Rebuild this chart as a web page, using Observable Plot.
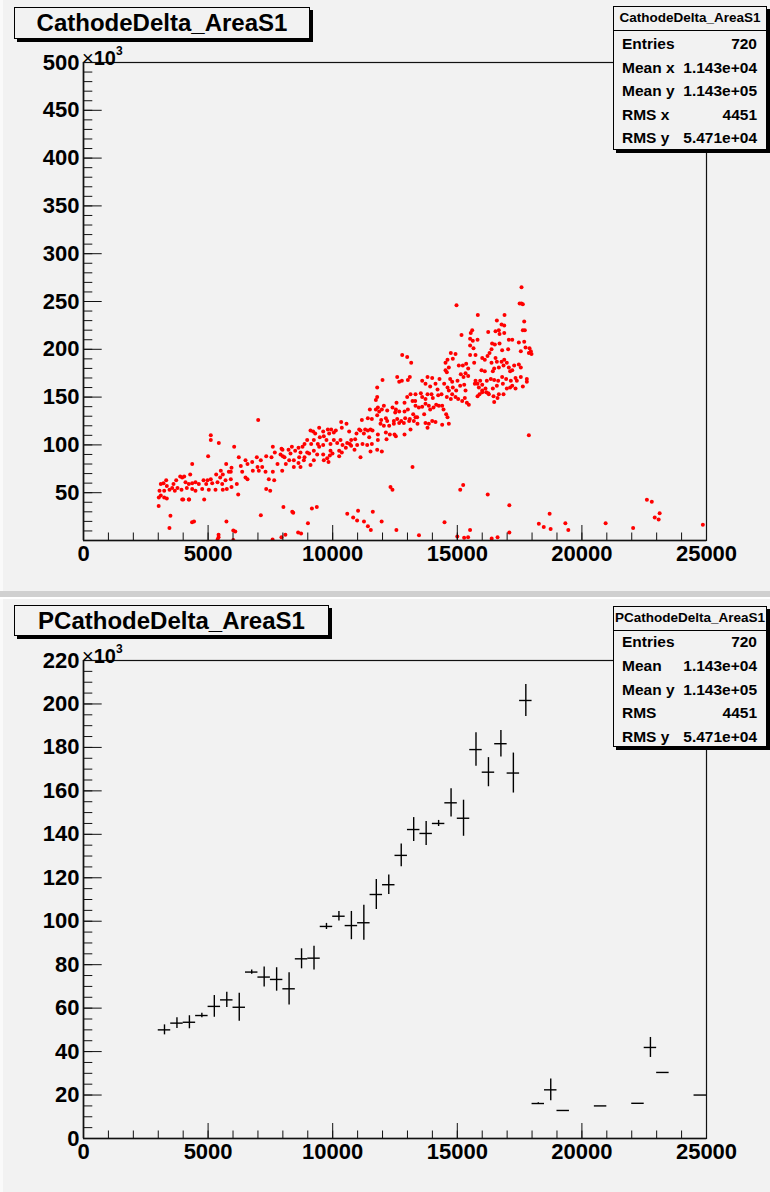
<!DOCTYPE html>
<html>
<head>
<meta charset="utf-8">
<script src="https://cdn.jsdelivr.net/npm/d3@7"></script>
<script src="https://cdn.jsdelivr.net/npm/@observablehq/plot@0.6"></script>
<style>
html,body{margin:0;padding:0;background:#f2f2f2;}
#canvas{position:relative;width:770px;height:1192px;overflow:hidden;background:#f2f2f2;
  font-family:"Liberation Sans",Arial,Helvetica,sans-serif;font-weight:bold;color:#000;}
.plot{position:absolute;left:0;}
.title{position:absolute;background:#f2f2f2;border:1px solid #000;box-shadow:3px 3px 0 #000;
  font-size:24px;text-align:center;box-sizing:border-box;}
.stats{position:absolute;background:#f2f2f2;border:1px solid #000;box-shadow:3px 3px 0 #000;box-sizing:border-box;}
.stats .hdr{position:absolute;left:0;right:0;top:0;height:23px;border-bottom:1px solid #000;
  font-size:13.5px;line-height:22px;text-align:center;white-space:nowrap;}
.stats .row{position:absolute;left:8px;right:9px;height:20px;line-height:20px;font-size:15.5px;
  display:flex;justify-content:space-between;white-space:nowrap;}
.exp{position:absolute;font-size:20px;line-height:20px;white-space:nowrap;}
.exp .x{font-weight:normal;}
.exp sup{font-size:12px;position:relative;top:-2px;}
.band{position:absolute;left:0;width:770px;}
</style>
</head>
<body>
<div id="canvas"></div>
<script>
// ---------- data ----------
const xTickLabels = [0, 5000, 10000, 15000, 20000, 25000];
const topYTickLabels = [50, 100, 150, 200, 250, 300, 350, 400, 450, 500];
const botYTickLabels = [0, 20, 40, 60, 80, 100, 120, 140, 160, 180, 200, 220];

// scatter CathodeDelta_AreaS1 : [x, y (×10^3)]
const scatterXY = [
[17577,265],[17500,248],[17577,248],[17630,247],[14968,246],[15823,236],[16895,236],[16587,230],[17685,229],
[16775,226],[16883,225],[15169,215],[15598,220],[15540,217],[16240,218],[16534,219],[16667,220],[16695,216],
[16883,217],[17630,220],[17710,220],[15514,211],[15622,209],[15812,210],[16397,206],[16506,205],[16695,206],
[17068,210],[17204,210],[17469,207],[17685,208],[17738,202],[17898,201],[17951,198],[17871,196],[17978,195],
[15514,204],[15650,201],[16373,200],[16293,196],[16800,199],[17040,200],[17549,198],[14740,196],[14929,195],
[15514,194],[15731,194],[14607,189],[14820,190],[14527,186],[16000,191],[16213,193],[16104,189],[16534,191],
[16775,187],[16883,189],[16987,186],[16587,187],[16373,186],[15061,183],[15221,183],[15357,185],[15437,180],
[15677,186],[14660,181],[14580,176],[14527,178],[15972,178],[16104,177],[16426,177],[16480,180],[16667,181],
[16855,183],[17068,181],[17204,178],[17282,183],[17469,184],[17549,181],[17122,177],[15141,174],[15330,175],
[15250,171],[15437,172],[13805,171],[13993,170],[14286,169],[14714,169],[14794,166],[15008,167],[15731,167],
[15811,164],[15918,167],[16000,163],[16185,167],[16345,169],[16480,168],[16640,167],[16800,171],[16960,169],
[17148,167],[17336,170],[17389,167],[17549,171],[17790,166],[13591,167],[13724,164],[13912,161],[14125,164],
[14206,158],[14473,164],[14607,160],[14660,157],[14820,160],[14955,157],[15115,162],[15277,163],[15330,157],
[15704,164],[15865,160],[16000,157],[16131,159],[16240,154],[16426,159],[16587,162],[16828,164],[16987,159],
[17204,162],[17336,159],[17630,161],[17120,160],[17790,169],[13323,153],[13537,154],[13591,150],[13805,153],
[13965,153],[14018,149],[13724,148],[14233,152],[14366,153],[14580,150],[14740,148],[14794,153],[14929,150],
[15036,148],[15196,146],[15302,149],[15383,144],[15463,142],[15812,151],[15892,153],[16000,155],[16160,155],
[16265,153],[16453,151],[16614,149],[16667,153],[16855,153],[16480,145],[13323,141],[13456,139],[13591,140],
[13724,143],[13857,141],[13912,137],[14045,139],[14152,142],[14260,141],[14393,141],[14447,137],[14553,132],
[14607,129],[13403,122],[13724,123],[13857,122],[13993,125],[14125,124],[13805,118],[14393,121],[14660,122],
[17871,110],[13323,129],[13670,132],
[12789,194],[12989,192],[13150,186],[12589,171],[12669,166],[12775,167],[13016,168],[13095,171],[11999,168],
[11785,160],[11785,150],[11732,147],[12989,150],[13123,153],[13203,146],[13311,146],[12561,144],[12882,144],
[12053,141],[11812,139],[11866,135],[11491,137],[11732,137],[11972,137],[12187,136],[12400,139],[12534,137],
[12508,134],[12669,135],[12882,135],[13016,137],[13230,132],[13390,129],[13256,125],[13095,127],[11410,128],
[11571,127],[11785,131],[11946,126],[12133,128],[12187,125],[12454,125],[12589,127],[12749,125],[12909,128],
[13068,125],[11919,122],[12053,120],[12266,120],[12454,122],[12669,123],[12855,123],[13123,116],[12133,113],
[12160,106],[12292,111],[12481,111],[12534,109],[12882,111],[11812,111],[11812,105],[11972,93],[11170,126],
[11518,116],[11598,115],[11410,115],[11116,115],[11304,116],[11063,116],[11464,108],[11250,112],[10955,112],
[10902,106],[10741,105],[10661,114],[10554,122],[10340,124],[10366,118],[10125,115],[10045,113],[9939,116],
[9804,116],[9858,112],[9618,114],[9643,109],[9483,108],[9298,112],[9214,114],[9109,115],[9457,118],[9403,101],
[9618,100],[9750,105],[9912,101],[10045,105],[10180,102],[10313,105],[10394,100],[10581,102],[10741,99],
[10875,95],[10260,94],[9912,94],[9992,91],[10260,88],[10366,92],[10527,97],[10688,101],[10982,100],[11196,101],
[11384,100],[11571,101],[11785,95],[11518,93],[11116,87],[9832,82],[9243,105],[9136,101],[8976,105],[8869,101],
[8789,98],[8708,92],[8628,97],[8495,94],[8361,98],[8227,95],[8307,91],[8066,87],[7986,95],[7906,90],[8119,80],
[8440,84],[8655,87],[8842,84],[9056,91],[9243,94],[9377,90],[9618,90],[9778,86],[9885,89],[9457,98],[8976,92],
[8869,87],[9243,84],[9643,84],[8253,84],[8628,81],[9109,79],[8708,77],[8440,77],[13203,77],
[7010,126],[5108,110],[5108,105],[5430,102],[6046,98],[5001,88],[4362,80],[5726,80],[5939,76],[5831,72],
[5510,73],[5590,69],[5325,69],[5486,66],[5699,63],[5911,64],[5108,64],[4976,63],[4816,63],[5165,60],[5377,61],
[5566,59],[4924,59],[4627,59],[4494,61],[4362,60],[4226,59],[4093,61],[4146,55],[3961,66],[3881,67],[4041,67],
[4282,69],[3720,63],[3612,59],[3772,55],[3560,55],[3343,57],[3319,63],[3210,60],[3102,59],[3050,52],[3239,52],
[3451,53],[3664,52],[3933,53],[4362,54],[4494,52],[4763,54],[5028,53],[5297,53],[5590,53],[5750,54],[5939,56],
[6152,59],[6208,48],[3102,47],[3022,45],[3239,45],[3343,44],[3961,43],[4226,43],[4843,43],[6232,87],[6501,84],
[6312,78],[6581,80],[6770,82],[6955,87],[7115,84],[6983,77],[7332,88],[7544,87],[7597,98],[7677,92],[7946,96],
[7998,88],[7785,80],[7974,73],[7597,72],[7304,72],[7436,64],[7653,63],[7332,54],[7492,52],[6501,66],[6368,72],
[6581,64],[5911,72],[7035,73],[6794,73],[7171,77],
[3016,36],[3489,26],[3449,13],[4001,43],[4238,43],[4356,19],[4435,20],[5736,20],[5420,6],[5420,3.5],[5381,1],
[6011,10.5],[6090,9.4],[6011,0.5],[7116,26.5],[7588,1],[8022,35],[8101,6],[7943,3.5],[8377,30],[8416,29],
[8613,8.4],[8731,7.4],[9007,18],[9165,33.5],[9362,35],[10584,28],[10821,24],[11018,31],[10979,21],[11255,20],
[11412,15],[11530,11],[11609,30],[11964,20],[12319,56],[12398,53],[12556,11],[13462,5.6],[14487,19],[15000,4.2],
[15275,2.8],[15433,3.5],[15512,11],[15118,53],[15236,58],[16221,48],[16379,2],[16615,3.5],[17088,37],[17088,8.4],
[18272,17.5],[18469,14],[18705,28],[18745,12],[19336,18],[19454,11],[20952,18],[22056,13],[22608,42.6],
[22805,40.5],[22923,24],[23080,22],[23120,28.6],[24854,16.4]
];

// profile PCathodeDelta_AreaS1 (bin width 500)
const binWidth = 500;
const profX = [3250,3750,4250,4750,5250,5750,6250,6750,7250,7750,8250,8750,9250,9750,10250,10750,11250,11750,
  12250,12750,13250,13750,14250,14750,15250,15750,16250,16750,17250,17750,18250,18750,19250,20750,22250,22750,23250,24750];
const profY = [50.0,53.1,53.5,56.6,60.8,63.8,60.4,76.6,74.3,73.2,68.9,82.7,83.0,97.6,102.3,98.0,99.3,112.3,
  116.8,130.3,142.2,140.4,145.0,154.5,147.4,179.0,168.6,181.7,168.2,201.6,16.1,22.4,12.9,15.0,16.2,41.9,30.4,20.0];
const profErr = [2.3,2.5,3.0,1.0,5.0,3.5,6.4,1.0,4.6,5.4,7.4,4.6,5.5,1.4,2.2,6.5,8.0,6.9,
  4.5,5.2,5.5,5.5,1.4,6.5,8.3,7.7,6.7,6.1,9.2,7.4,0.4,5.0,0,0,0,4.6,0,0];

const statsTop = {name:"CathodeDelta_AreaS1", rows:[["Entries","720"],["Mean x","1.143e+04"],["Mean y","1.143e+05"],["RMS x","4451"],["RMS y","5.471e+04"]]};
const statsBot = {name:"PCathodeDelta_AreaS1", rows:[["Entries","720"],["Mean","1.143e+04"],["Mean y","1.143e+05"],["RMS","4451"],["RMS y","5.471e+04"]]};

// ---------- drawing ----------
const canvas = document.getElementById("canvas");
const FONT = "Liberation Sans, Arial, Helvetica, sans-serif";
const xMinor = d3.range(0, 25001, 1000);
const FRAME_H = 478, FRAME_W = 623;

function frameMarks(yMax, yMinorStep, yMajor) {
  const yMinor = d3.range(0, yMax + 0.001, yMinorStep);
  const tk = {stroke: "#111", strokeWidth: 1};
  return [
    Plot.frame({stroke: "#111", strokeWidth: 1.2}),
    Plot.tickX(xMinor, {x: d => d, insetTop: FRAME_H - 7.5, ...tk}),
    Plot.tickX(xTickLabels, {x: d => d, insetTop: FRAME_H - 15, ...tk}),
    Plot.tickY(yMinor, {y: d => d, insetRight: FRAME_W - 9.3, ...tk}),
    Plot.tickY(yMajor, {y: d => d, insetRight: FRAME_W - 18.7, ...tk}),
    Plot.ruleY([0], {stroke: "#111", strokeWidth: 1.6}),
    Plot.ruleX([0], {stroke: "#111", strokeWidth: 1.6}),
    Plot.axisX({ticks: xTickLabels, tickSize: 0, tickPadding: 5, fontSize: 22, fontWeight: "bold", tickFormat: d => String(d), label: null}),
    Plot.axisY({ticks: yMajor, tickSize: 0, tickPadding: 4, fontSize: 22, fontWeight: "bold", tickFormat: d => String(d), label: null})
  ];
}

// top pad
const topPlot = Plot.plot({
  width: 770, height: 596,
  marginLeft: 83, marginRight: 64, marginTop: 62, marginBottom: 56,
  style: {background: "transparent", color: "#000", fontFamily: FONT, overflow: "visible"},
  x: {domain: [0, 25000]},
  y: {domain: [0, 500]},
  marks: [
    Plot.dot(scatterXY, {x: d => d[0], y: d => d[1], r: 2, fill: "#ff0000", stroke: "none", clip: true}),
    ...frameMarks(500, 10, topYTickLabels)
  ]
});
topPlot.classList.add("plot");
topPlot.style.top = "0px";
canvas.appendChild(topPlot);

// bottom pad
const profile = profX.map((x, i) => ({x, y: profY[i], e: profErr[i]}));
const botPlot = Plot.plot({
  width: 770, height: 596,
  marginLeft: 83, marginRight: 64, marginTop: 64, marginBottom: 54,
  style: {background: "transparent", color: "#000", fontFamily: FONT, overflow: "visible"},
  x: {domain: [0, 25000]},
  y: {domain: [0, 220]},
  marks: [
    Plot.ruleY(profile, {y: "y", x1: d => d.x - binWidth / 2, x2: d => d.x + binWidth / 2, stroke: "#000", strokeWidth: 1.4}),
    Plot.ruleX(profile.filter(d => d.e > 0), {x: "x", y1: d => d.y - d.e, y2: d => d.y + d.e, stroke: "#000", strokeWidth: 1.4}),
    ...frameMarks(220, 5, botYTickLabels)
  ]
});
botPlot.classList.add("plot");
botPlot.style.top = "596px";
canvas.appendChild(botPlot);

// pad borders
function band(top, height, color, left = 0, width = 770) {
  const d = document.createElement("div");
  d.className = "band";
  Object.assign(d.style, {top: top + "px", height: height + "px", background: color, left: left + "px", width: width + "px"});
  canvas.appendChild(d);
}
band(591, 6, "#d0d0d0");
band(597, 2, "#ffffff");
band(0, 591, "#fafafa", 0, 3);
band(599, 593, "#fafafa", 0, 3);

// titles
function title(text, left, top, width, height) {
  const d = document.createElement("div");
  d.className = "title";
  Object.assign(d.style, {left: left + "px", top: top + "px", width: width + "px", height: height + "px", lineHeight: (height - 2) + "px"});
  d.textContent = text;
  canvas.appendChild(d);
}
title("CathodeDelta_AreaS1", 14, 7, 296, 32);
title("PCathodeDelta_AreaS1", 14, 605, 315, 31);

// ×10^3
function exp(left, top) {
  const d = document.createElement("div");
  d.className = "exp";
  d.style.left = left + "px"; d.style.top = top + "px";
  d.innerHTML = '<span class="x">×</span>10<sup>3</sup>';
  canvas.appendChild(d);
}
exp(82, 43);
exp(82, 641);

// stats boxes
function stats(s, left, top, width, height, rowTops) {
  const box = document.createElement("div");
  box.className = "stats";
  Object.assign(box.style, {left: left + "px", top: top + "px", width: width + "px", height: height + "px"});
  const h = document.createElement("div");
  h.className = "hdr"; h.textContent = s.name;
  box.appendChild(h);
  s.rows.forEach((r, i) => {
    const row = document.createElement("div");
    row.className = "row";
    row.style.top = rowTops[i] + "px";
    const a = document.createElement("span"); a.textContent = r[0];
    const b = document.createElement("span"); b.textContent = r[1];
    row.appendChild(a); row.appendChild(b);
    box.appendChild(row);
  });
  canvas.appendChild(box);
}
stats(statsTop, 613, 6, 154, 144, [27, 51, 74, 98, 121]);
stats(statsBot, 613, 606, 154, 141, [25, 49, 73, 96, 120]);
</script>
</body>
</html>
